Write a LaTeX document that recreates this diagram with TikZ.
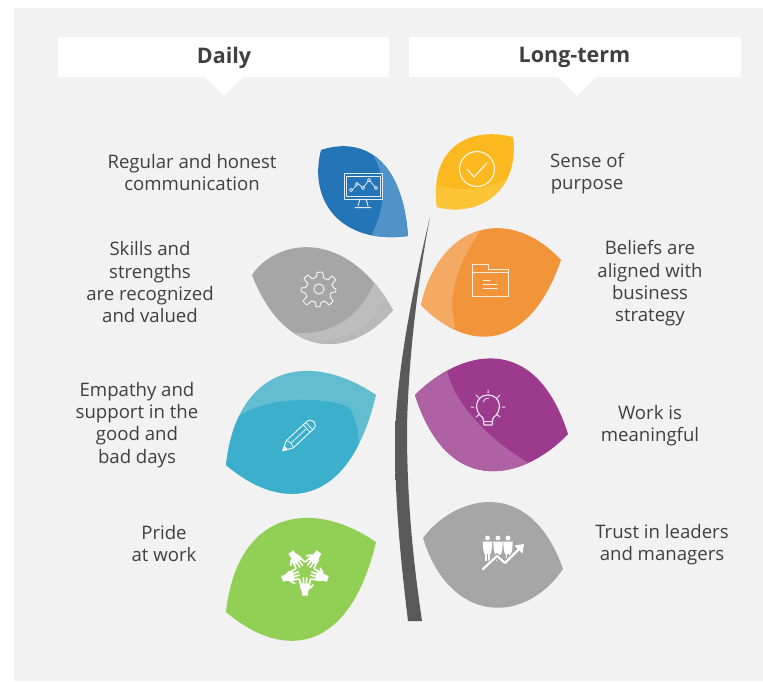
\documentclass[tikz,border=0pt]{standalone}
\usepackage{fontspec}
\setmainfont{Open Sans}
\definecolor{panel}{HTML}{F2F2F2}
\definecolor{ink}{HTML}{404040}
\definecolor{blueD}{HTML}{2474B8}\definecolor{blueL}{HTML}{4F93C9}
\definecolor{grayD}{HTML}{A6A6A6}\definecolor{grayL}{HTML}{BDBDBD}
\definecolor{yelD}{HTML}{FBB91F}\definecolor{yelL}{HTML}{FCC437}
\definecolor{orD}{HTML}{F2943A}\definecolor{orL}{HTML}{F4AA62}
\definecolor{purD}{HTML}{9C3A8E}\definecolor{purL}{HTML}{AE62A4}
\definecolor{tealD}{HTML}{3BAFCB}\definecolor{tealL}{HTML}{63BDD1}
\definecolor{greenD}{HTML}{92CF55}
\pgfdeclareverticalshading{stemshade}{100bp}{color(0bp)=(black!65);color(62bp)=(black!65);color(80bp)=(black!60);color(92bp)=(black!45);color(100bp)=(black!15)}
\tikzset{
  label/.style={font=\fontsize{18.6}{22.3}\selectfont,text=ink,align=center,inner sep=0pt},
  head/.style={font=\fontsize{21.5}{26}\selectfont\bfseries,text=ink,inner sep=0pt},
  icon/.style={draw=white,line width=1pt,line join=round,line cap=round,opacity=.85},
}
\def\leafBlue{(321,150) .. controls (360,137) and (402,155) .. (408,236) .. controls (340,245) and (308,200) .. cycle}
\def\leafGray{(252,275) .. controls (275,240) and (345,225) .. (393,310) .. controls (350,360) and (285,360) .. cycle}
\def\leafTeal{(226,465) .. controls (237,365) and (310,350) .. (376,395) .. controls (350,505) and (285,515) .. cycle}
\def\leafYel{(437,207) .. controls (429,152) and (465,125) .. (513,137) .. controls (520,190) and (480,218) .. cycle}
\def\leafOr{(421,305) .. controls (440,222) and (510,205) .. (561,260) .. controls (530,350) and (470,355) .. cycle}
\def\leafPur{(415,395) .. controls (460,350) and (535,330) .. (568,434) .. controls (530,475) and (450,505) .. cycle}
\def\leafGrayB{(423,538) .. controls (455,495) and (530,475) .. (563,569) .. controls (525,625) and (450,625) .. cycle}
\begin{document}
\begin{tikzpicture}[x=1pt,y=-1pt]
\useasboundingbox (0,0) rectangle (763,681);
\fill[white] (0,0) rectangle (763,681);
\fill[panel] (14,7.5) rectangle (763,681);
% header bars
\fill[white] (58,37) rectangle (389,77);
\fill[white] (409,37) rectangle (741,77);
\fill[white] (205,77) -- (243,77) -- (224,96) -- cycle;
\fill[white] (558,77) -- (596,77) -- (577,96) -- cycle;
\node[head] (daily) at (224,57.5) {Daily};
\node[head] (longterm) at (574.5,57.5) {Long-term};
% stem
\shade[shading=stemshade] (430,217) .. controls (410,300) and (396,380) .. (395,440) .. controls (395,510) and (402,570) .. (408,621) -- (422,621) .. controls (413,560) and (407,500) .. (407,430) .. controls (408,360) and (418,280) .. cycle;
% leaves
\begin{scope}\clip \leafBlue;
\fill[blueD] (300,130) rectangle (420,250);
\fill[blueL] (367,145) .. controls (385,170) and (390,200) .. (370,238) -- (420,250) -- (420,130) -- cycle;
\end{scope}
\begin{scope}\clip \leafGray;
\fill[grayD] (240,220) rectangle (400,360);
\fill[grayL] (377,275) .. controls (360,325) and (320,340) .. (280,330) -- (280,360) -- (400,360) -- (400,280) -- cycle;
\fill[black!30,opacity=.35] (385,295) .. controls (375,330) and (340,345) .. (300,340) -- (300,360) -- (400,360) -- (400,300) -- cycle;
\end{scope}
\begin{scope}\clip \leafTeal;
\fill[tealL] (220,340) rectangle (380,520);
\fill[tealD] (238,417) .. controls (258,402) and (292,399) .. (315,400) .. controls (335,402) and (350,405) .. (352,412) .. controls (358,425) and (360,440) .. (358,455) -- (340,520) -- (200,520) -- (200,430) -- cycle;
\end{scope}
\fill[greenD,yshift=-147pt] \leafTeal;
\begin{scope}\clip \leafYel;
\fill[yelD] (420,120) rectangle (525,220);
\fill[yelL] (430,183) .. controls (465,195) and (490,188) .. (520,173) -- (525,220) -- (420,220) -- cycle;
\end{scope}
\begin{scope}\clip \leafOr;
\fill[orD] (410,200) rectangle (570,350);
\fill[orL] (485,225) .. controls (465,250) and (445,290) .. (455,325) -- (455,350) -- (410,350) -- (410,200) -- (485,200) -- cycle;
\end{scope}
\begin{scope}\clip \leafPur;
\fill[purD] (410,340) rectangle (575,510);
\fill[purL] (447,371) .. controls (455,405) and (490,440) .. (527,462) -- (527,510) -- (410,510) -- (410,360) -- cycle;
\end{scope}
\fill[grayD] \leafGrayB;
% monitor
\draw[icon] (344,173) rectangle (382,199);
\draw[icon,line width=.8pt] (346,176) rectangle (380,196);
\draw[icon,line width=.8pt] (352,190) -- (358,183.5) -- (363,188) -- (369,180) -- (376,188);
\foreach \p in {(351,190),(357,184),(363,188),(369,180),(376,188)} \draw[icon,line width=.7pt,fill=blueD] \p circle (1.7);
\draw[icon,line width=1.3pt,dash pattern=on 3pt off 1pt] (348,176.5) -- (365,176.5);
\draw[icon] (360,199) -- (358,206) (366,199) -- (368,206) (355,207.5) -- (371,207.5);
% gear
\begin{scope}[shift={(318.5,289)},scale=.93,shift={(-318.5,-289)}]
\draw[icon] plot[smooth cycle,tension=.2] coordinates {
  (319,271) (323,271) (324,277) (329,279) (333,275) (337,279) (333,284) (335,288) (337,289)
  (337,292) (332,293) (331,297) (334,302) (330,306) (325,302) (321,304) (320,308)
  (316,308) (315,303) (311,302) (306,306) (302,302) (306,297) (304,293) (300,292)
  (300,288) (305,287) (307,283) (303,278) (307,274) (312,278) (316,276) (317,271)};
\draw[icon] (319,289) circle (5.5);
\end{scope}
% check
\draw[icon,line width=1.2pt] (477,169) circle (17.5);
\draw[icon,line width=1.2pt] (467,169) -- (474,177) -- (487,163);
% folder
\draw[icon] (472,264) -- (488,264) -- (488,269) -- (508,269) -- (508,296) -- (472,296) -- cycle;
\draw[icon] (472,272) -- (508,272);
\draw[icon] (483,280) -- (490,280) (483,284) -- (497,284) (483,288) -- (497,288);
% pencil
\begin{scope}[shift={(282.5,451)},rotate=43]
\draw[icon] (0,0) -- (10,-5) -- (37,-5) .. controls (41,-5) and (43,-3) .. (43,0) .. controls (43,3) and (41,5) .. (37,5) -- (10,5) -- cycle;
\draw[icon,line width=.8pt] (12,0) -- (33,0) (33,-5) -- (33,5) (36.5,-5) -- (36.5,5);
\draw[icon,line width=.8pt] (10,-5) .. controls (12,-2) and (12,2) .. (10,5);
\fill[white,opacity=.9] (0,0) -- (5,-2.5) -- (5,2.5) -- cycle;
\end{scope}
% hands
\foreach \a in {0,72,144,216,288}{
 \begin{scope}[shift={(305,571.5)},rotate=\a]
  \fill[white] (-3,24) -- (3,24) -- (3.2,20) -- (5.2,15.5) -- (5.2,12) -- (-5.2,12) -- (-5.2,15.5) -- (-3.2,20) -- cycle;
  \draw[white,line width=1.7pt,line cap=round] (-4.2,13) -- (-5.4,8) (-1.4,13) -- (-1.7,6.5) (1.4,13) -- (1.7,6.5) (4.2,13) -- (5.4,8) (4.6,17) -- (8,13.5);
 \end{scope}}
% bulb
\draw[icon,line width=1.2pt] (484,425) -- (492,425) -- (493,418) .. controls (503,411) and (501,395) .. (488,395) .. controls (475,395) and (473,411) .. (483,418) -- cycle;
\draw[icon,line width=.8pt] (483,402) .. controls (484,399) and (486,398) .. (489,398);
\draw[icon] (484,421) -- (492,421);
\draw[icon] (488,390) -- (488,393) (476,395) -- (479,398) (500,395) -- (497,398) (471,407) -- (474,407) (505,407) -- (502,407) (476,417) -- (478.5,415) (500,417) -- (497.5,415);
% people and arrow
\foreach \x in {487.5,498,508}{
 \fill[white] (\x,538) circle (2.4);
 \fill[white] (\x-4.8,541.5) -- (\x+4.8,541.5) -- (\x+4.2,550) -- (\x+3,554) -- (\x-3,554) -- (\x-4.2,550) -- cycle;
 \draw[white,line width=1.5pt] (\x-1.4,553) -- (\x-1.4,561) (\x+1.4,553) -- (\x+1.4,561);
}
\draw[draw=grayD,line width=4.6pt] (483,569) -- (497,556) -- (505,563) -- (520,548);
\draw[white,line width=2.2pt,line cap=round,line join=round] (483,569) -- (497,556) -- (505,563) -- (520,548);
\fill[white] (524,544) -- (514.5,545.5) -- (522.5,553.5) -- cycle;
% labels
\node[label] (t1) at (192,172.8) {Regular and honest\\communication};
\node[label] (t2) at (150,282.3) {Skills and\\strengths\\are recognized\\and valued};
\node[label] (t3) at (137,424.8) {Empathy and\\support in the\\good and\\bad days};
\node[label] (t4) at (164,543.8) {Pride\\at work};
\node[label] (t5) at (587,173.8) {Sense of\\purpose};
\node[label] (t6) at (650,283.5) {Beliefs are\\aligned with\\business\\strategy};
\node[label] (t7) at (650,426) {Work is\\meaningful};
\node[label] (t8) at (662,544.8) {Trust in leaders\\and managers};
\end{tikzpicture}
\end{document}
